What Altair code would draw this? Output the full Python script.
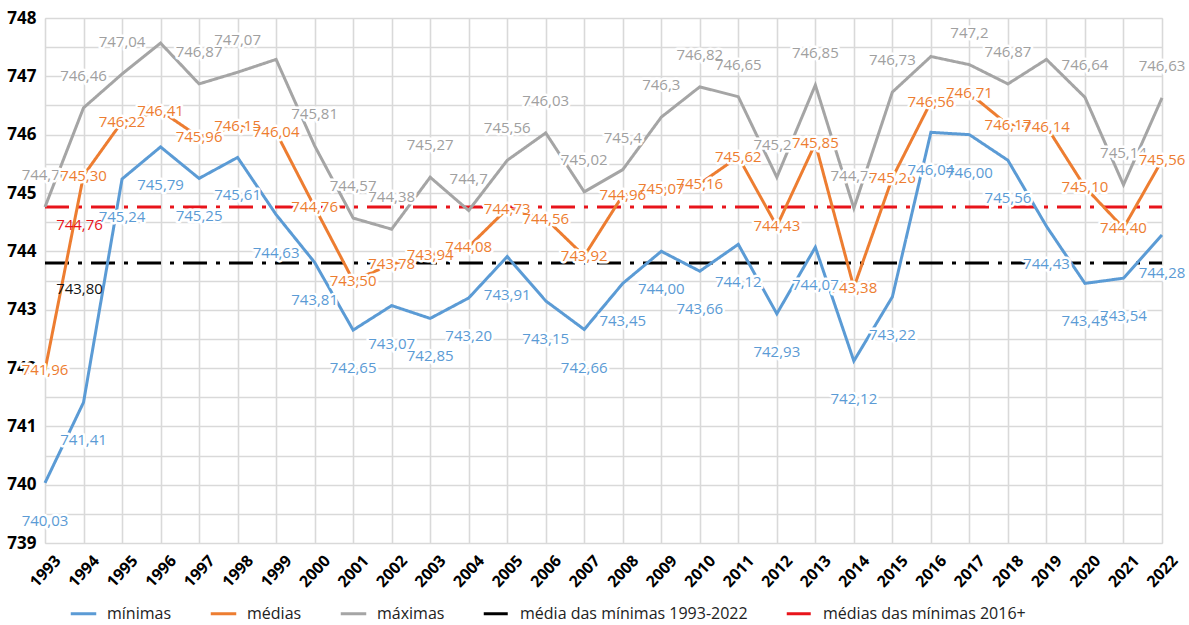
import altair as alt
import pandas as pd

years = list(range(1993, 2023))

minimas = [740.03, 741.41, 745.24, 745.79, 745.25, 745.61, 744.63, 743.81, 742.65, 743.07,
           742.85, 743.20, 743.91, 743.15, 742.66, 743.45, 744.00, 743.66, 744.12, 742.93,
           744.07, 742.12, 743.22, 746.04, 746.00, 745.56, 744.43, 743.45, 743.54, 744.28]

medias = [741.96, 745.30, 746.22, 746.41, 745.96, 746.15, 746.04, 744.76, 743.50, 743.78,
          743.94, 744.08, 744.73, 744.56, 743.92, 744.96, 745.07, 745.16, 745.62, 744.43,
          745.85, 743.38, 745.26, 746.56, 746.71, 746.17, 746.14, 745.10, 744.40, 745.56]

maximas = [744.76, 746.46, 747.04, 747.57, 746.87, 747.07, 747.29, 745.81, 744.57, 744.38,
           745.27, 744.70, 745.56, 746.03, 745.02, 745.40, 746.30, 746.82, 746.65, 745.27,
           746.85, 744.74, 746.73, 747.34, 747.20, 746.87, 747.29, 746.64, 745.14, 746.63]

maximas_sem_rotulo = [1996, 1999, 2016, 2019]

media_minimas_total = 743.80
media_minimas_2016 = 744.76

series_names = ["mínimas", "médias", "máximas",
                "média das mínimas 1993-2022", "médias das mínimas 2016+"]
series_colors = ["#5B9BD5", "#ED7D31", "#A5A5A5", "#000000", "#E8141B"]
label_colors = {"mínimas": "#5B9BD5", "médias": "#ED7D31", "máximas": "#A0A0A0"}


def fmt_fixed(v):
    return f"{v:.2f}".replace(".", ",")


def fmt_trim(v):
    return f"{v:.2f}".rstrip("0").rstrip(".").replace(".", ",")


rows = []
for name, vals in [(series_names[3], [media_minimas_total] * len(years)),
                   (series_names[4], [media_minimas_2016] * len(years)),
                   ("mínimas", minimas), ("médias", medias), ("máximas", maximas)]:
    for y, v in zip(years, vals):
        rows.append({"ano": y, "valor": v, "serie": name})
lines_df = pd.DataFrame(rows)

lab_rows = []
for y, v in zip(years, minimas):
    lab_rows.append({"ano": y, "valor": v, "serie": "mínimas", "txt": fmt_fixed(v)})
for y, v in zip(years, medias):
    lab_rows.append({"ano": y, "valor": v, "serie": "médias", "txt": fmt_fixed(v)})
for y, v in zip(years, maximas):
    if y not in maximas_sem_rotulo:
        lab_rows.append({"ano": y, "valor": v, "serie": "máximas", "txt": fmt_trim(v)})
labels_df = pd.DataFrame(lab_rows)

ref_labels_df = pd.DataFrame([
    {"ano": 1994, "valor": media_minimas_total, "txt": fmt_fixed(media_minimas_total), "serie": "preto"},
    {"ano": 1994, "valor": media_minimas_2016, "txt": fmt_fixed(media_minimas_2016), "serie": "vermelho"},
])

x_enc = alt.X("ano:Q",
              scale=alt.Scale(domain=[1993, 2022], nice=False, zero=False),
              axis=alt.Axis(values=years, format="d", labelAngle=-47, title=None,
                            labelAlign="center", labelBaseline="middle",
                            labelFontSize=16, labelFontWeight="bold", labelColor="#000",
                            labelFont="Open Sans", labelPadding=28,
                            ticks=False, domain=False,
                            grid=True, gridColor="#D9D9D9", gridWidth=1.6,
                            labelOverlap=False, labelBound=False, labelFlush=False))

y_values = [739 + 0.5 * i for i in range(19)]
y_enc = alt.Y("valor:Q",
              scale=alt.Scale(domain=[739, 748], nice=False, zero=False),
              axis=alt.Axis(values=y_values, title=None,
                            labelExpr="datum.value % 1 == 0 ? format(datum.value, 'd') : ''",
                            labelFontSize=17, labelFontWeight="bold", labelColor="#000",
                            labelFont="Open Sans", labelPadding=9, ticks=False, domain=False,
                            grid=True, gridColor="#D9D9D9", gridWidth=1.6,
                            labelOverlap=False))

lines = alt.Chart(lines_df).mark_line(strokeCap="butt", strokeJoin="miter").encode(
    x=x_enc,
    y=y_enc,
    color=alt.Color("serie:N",
                    scale=alt.Scale(domain=series_names, range=series_colors),
                    sort=series_names,
                    legend=alt.Legend(title=None, orient="none", direction="horizontal",
                                      legendX=24, legendY=581, columns=5,
                                      symbolType="stroke", symbolSize=650,
                                      symbolStrokeWidth=5, labelFontSize=16,
                                      labelFont="Open Sans", labelColor="#222",
                                      labelLimit=400,
                                      labelOffset=9, columnPadding=32)),
    strokeDash=alt.StrokeDash("serie:N",
                              scale=alt.Scale(domain=series_names,
                                              range=[[1, 0], [1, 0], [1, 0],
                                                     [24, 9, 4, 9], [24, 9, 4, 9]]),
                              sort=series_names, legend=None),
    strokeWidth=alt.StrokeWidth("serie:N",
                                scale=alt.Scale(domain=series_names, range=[3, 3, 3, 4, 4]),
                                legend=None),
    detail="serie:N",
)

dy_map = {"mínimas": 38, "médias": 0, "máximas": -32}


def label_layer(name):
    d = labels_df[labels_df["serie"] == name]
    base = alt.Chart(d).encode(x=x_enc, y=y_enc, text="txt:N")
    halo = base.mark_text(fontSize=15, font="Open Sans", dy=dy_map[name],
                          fill="white", stroke="white", strokeWidth=5,
                          strokeJoin="round")
    txt = base.mark_text(fontSize=15, font="Open Sans", dy=dy_map[name],
                         color=label_colors[name])
    return [halo, txt]


ref_base = alt.Chart(ref_labels_df).encode(x=x_enc, y=y_enc, text="txt:N")
ref_black = ref_base.transform_filter(alt.datum.serie == "preto").mark_text(
    fontSize=15, font="Open Sans", dy=26, dx=-4, color="#111")
ref_red = ref_base.transform_filter(alt.datum.serie == "vermelho").mark_text(
    fontSize=15, font="Open Sans", dy=18, dx=-4, color="#E8141B")

layers = [lines]
for n in ["máximas", "médias", "mínimas"]:
    layers += label_layer(n)
layers += [ref_black, ref_red]

chart = alt.layer(*layers).properties(
    width=1117, height=525,
    autosize=alt.AutoSizeParams(type="none"),
    padding={"left": 45, "top": 18, "right": 27, "bottom": 82},
).configure_view(stroke=None).configure(background="white")

chart.save("out.html", embed_options={"renderer": "svg", "actions": False})
